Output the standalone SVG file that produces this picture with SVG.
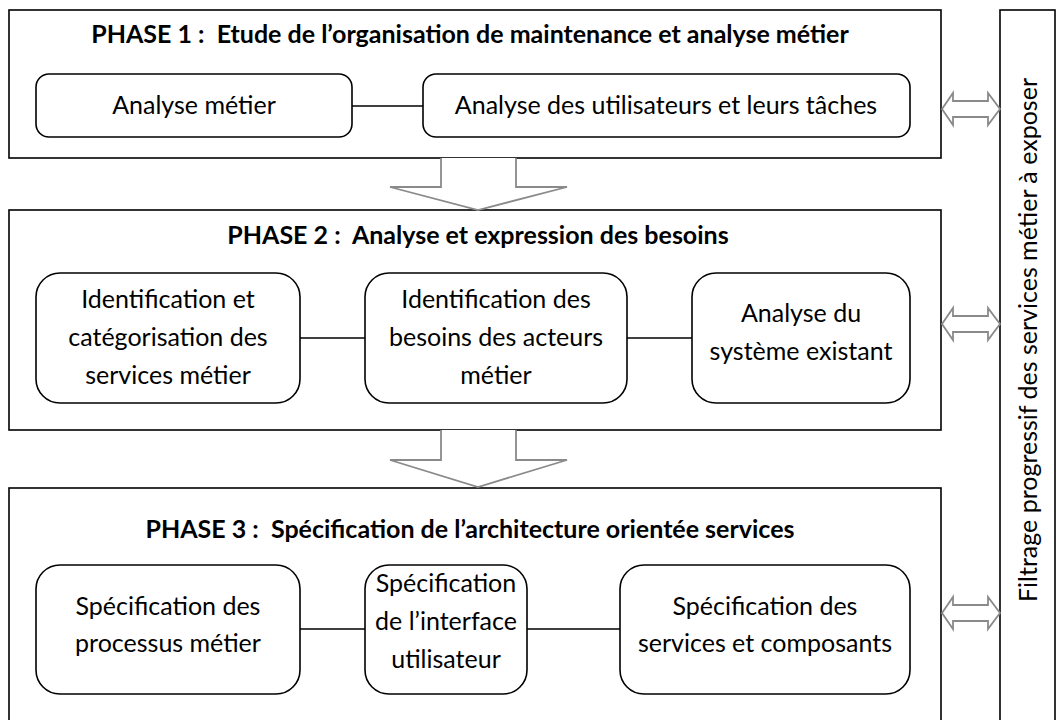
<svg xmlns="http://www.w3.org/2000/svg" width="1062" height="720" viewBox="0 0 1062 720">
<style>
.phase{fill:#fff;stroke:#000;stroke-width:1.6}
.box{fill:#fff;stroke:#000;stroke-width:1.6}
.title{font-family:Lato,"Liberation Sans",sans-serif;font-weight:bold;font-size:25px;fill:#000;text-anchor:middle}
.t{font-family:Lato,"Liberation Sans",sans-serif;font-size:25px;fill:#000;text-anchor:middle}
.conn{stroke:#000;stroke-width:1.6;fill:none}
.blk{fill:#fff;stroke:#8a8a8a;stroke-width:1.8;stroke-linejoin:miter}
</style>
<rect width="1062" height="720" fill="#fff"/>
<g id="phase1">
<rect class="phase" x="9" y="10" width="932" height="148"/>
<text class="title" x="470" y="43">PHASE 1 :&#160; Etude de l’organisation de maintenance et analyse métier</text>
</g>
<g id="p1-analyse-metier"><rect class="box" x="36" y="74" width="316" height="63" rx="13"/><text class="t" x="194" y="114">Analyse métier</text></g>
<g id="p1-analyse-utilisateurs"><rect class="box" x="423" y="74" width="487" height="63" rx="13"/><text class="t" x="666" y="114">Analyse des utilisateurs et leurs tâches</text></g>
<g id="phase2">
<rect class="phase" x="9" y="210" width="932" height="220"/>
<text class="title" x="478" y="244">PHASE 2 :&#160; Analyse et expression des besoins</text>
</g>
<g id="p2-identification"><rect class="box" x="36" y="273" width="264" height="130" rx="24"/><text class="t" x="168" y="308">Identification et</text><text class="t" x="168" y="346">catégorisation des</text><text class="t" x="168" y="384">services métier</text></g>
<g id="p2-besoins"><rect class="box" x="365" y="273" width="262" height="130" rx="24"/><text class="t" x="496" y="308">Identification des</text><text class="t" x="496" y="346">besoins des acteurs</text><text class="t" x="496" y="384">métier</text></g>
<g id="p2-existant"><rect class="box" x="692" y="273" width="218" height="130" rx="24"/><text class="t" x="801" y="322">Analyse du</text><text class="t" x="801" y="360">système existant</text></g>
<g id="phase3">
<rect class="phase" x="9" y="488" width="932" height="240"/>
<text class="title" x="470" y="538">PHASE 3 :&#160; Spécification de l’architecture orientée services</text>
</g>
<g id="p3-processus"><rect class="box" x="36" y="565" width="264" height="129" rx="24"/><text class="t" x="168" y="615">Spécification des</text><text class="t" x="168" y="652">processus métier</text></g>
<g id="p3-interface"><rect class="box" x="365" y="565" width="162" height="129" rx="24"/><text class="t" x="446" y="592">Spécification</text><text class="t" x="446" y="630">de l’interface</text><text class="t" x="446" y="668">utilisateur</text></g>
<g id="p3-services"><rect class="box" x="620" y="565" width="290" height="129" rx="24"/><text class="t" x="765" y="615">Spécification des</text><text class="t" x="765" y="652">services et composants</text></g>
<g id="filtrage">
<rect class="phase" x="1000" y="10" width="55" height="718"/>
<text class="t" font-size="26" transform="translate(1037,340) rotate(-90)">Filtrage progressif des services métier à exposer</text>
</g>
<g id="connectors">
<line class="conn" x1="352" y1="106" x2="423" y2="106"/>
<line class="conn" x1="300" y1="338" x2="365" y2="338"/>
<line class="conn" x1="627" y1="338" x2="692" y2="338"/>
<line class="conn" x1="300" y1="629" x2="365" y2="629"/>
<line class="conn" x1="527" y1="629" x2="620" y2="629"/>
<path class="blk" d="M441,158 V187 H390 L478,210 L567,187 H516 V158"/>
<path class="blk" d="M441,430 V460 H390 L478,487 L567,460 H516 V430"/>
<path class="blk" d="M942,109 L953,93 V101 H988 V93 L1000,109 L988,125 V117 H953 V125 Z"/>
<path class="blk" d="M942,324 L953,308 V316 H988 V308 L1000,324 L988,340 V332 H953 V340 Z"/>
<path class="blk" d="M942,613 L953,597 V605 H988 V597 L1000,613 L988,629 V621 H953 V629 Z"/>
</g>
</svg>
